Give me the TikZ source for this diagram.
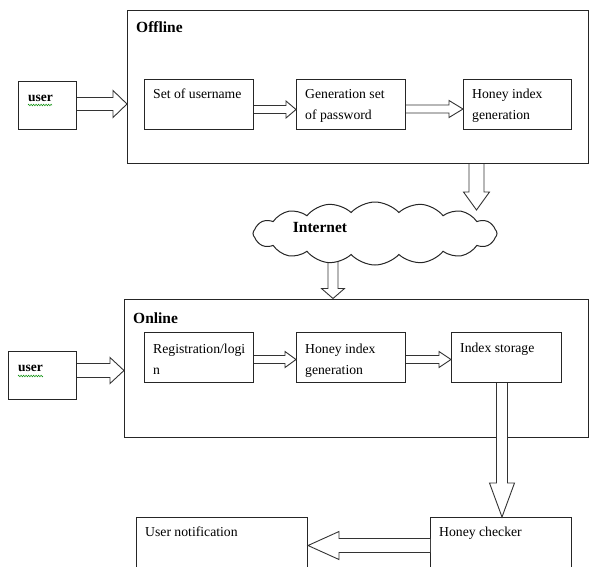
\documentclass[tikz,border=0pt]{standalone}
\usepackage{fontspec}
\setmainfont{Liberation Serif}
\usetikzlibrary{calc,shapes.symbols,decorations.pathmorphing}

% hollow block arrow: start, tip, shaft half width, head half width, head length
\newcommand{\hollowarrow}[5]{%
  \coordinate (ha-s) at #1;
  \coordinate (ha-t) at #2;
  \coordinate (ha-b) at ($(ha-t)!#5!(ha-s)$);
  \filldraw[arrowbody] ($(ha-s)!#3!90:(ha-t)$) -- ($(ha-b)!#3!-90:(ha-s)$)
    -- ($(ha-b)!#4!-90:(ha-s)$) -- (ha-t) -- ($(ha-b)!#4!90:(ha-s)$)
    -- ($(ha-b)!#3!90:(ha-s)$) -- ($(ha-s)!#3!-90:(ha-t)$);
}

\begin{document}
\begin{tikzpicture}[x=1pt,y=-1pt,
    box/.style={draw=black!85, line width=1pt, fill=white, anchor=north west, inner sep=0pt},
    stage/.style={box, line width=1.2pt},
    tag/.style={anchor=north west, inner sep=0pt, align=left, xshift=9pt, yshift=-10.5pt,
      font=\fontsize{13.7}{21}\selectfont},
    head/.style={anchor=north west, inner sep=0pt, xshift=9pt, yshift=-12pt,
      font=\fontsize{15.5}{18}\selectfont\bfseries},
    arrowbody/.style={draw=black!80, fill=white, line width=0.9pt, line join=miter},
    squiggle/.style={draw=green!55!black, line width=0.5pt,
      decorate, decoration={zigzag, amplitude=0.8pt, segment length=2.5pt}}]

    \useasboundingbox (0,0) rectangle (589,566);
    \clip (0,0) rectangle (589,566);

    % Offline stage
    \node[stage, minimum width=460.5pt, minimum height=153.5pt,
      label={[head]north west:Offline}] (offline) at (127,9.5) {};
    \node[box, minimum width=58pt, minimum height=48pt,
      label={[tag, font=\fontsize{13.5}{16}\selectfont\bfseries, xshift=1pt, yshift=-3.5pt]north west:user}] (user1) at (18,81) {};
    \node[box, minimum width=109pt, minimum height=50pt,
      label={[tag, yshift=0.5pt]north west:Set of username}] (setu) at (144,79) {};
    \node[box, minimum width=109pt, minimum height=50pt,
      label={[tag, yshift=0.5pt]north west:Generation set\\of password}] (genp) at (296,79) {};
    \node[box, minimum width=108pt, minimum height=50pt,
      label={[tag, yshift=0.5pt]north west:Honey index\\generation}] (hig1) at (463,79) {};

    % spell check mark under user
    \draw[squiggle] ($(user1.north west)+(10,24)$) -- ++(24,0);

    % Internet cloud, the arrow into the online stage sits behind it
    \coordinate (drop2) at (333,258);
    \node[stage, minimum width=463.5pt, minimum height=138.5pt,
      label={[head, yshift=-2pt]north west:Online}] (online) at (124,298.5) {};
    \hollowarrow{(drop2)}{(drop2 |- online.north)}{5pt}{11.5pt}{10pt}
    \node[cloud, cloud puffs=16, cloud puff arc=95, aspect=3.9, draw=black!85,
      line width=1pt, fill=white, minimum width=244pt, minimum height=63pt, inner sep=0pt,
      label={[font=\fontsize{15.5}{18}\selectfont\bfseries, xshift=-55pt, yshift=6.5pt]center:Internet}]
      (net) at (375,233.5) {};

    % Online stage
    \node[box, minimum width=68pt, minimum height=48pt,
      label={[tag, font=\fontsize{13.5}{16}\selectfont\bfseries, xshift=1pt, yshift=-3.5pt]north west:user}] (user2) at (8,351) {};
    \node[box, minimum width=109pt, minimum height=50pt,
      label={[tag, yshift=-1pt]north west:Registration/logi\\n}] (reg) at (144,332) {};
    \node[box, minimum width=109pt, minimum height=50pt,
      label={[tag, yshift=-1pt]north west:Honey index\\generation}] (hig2) at (296,332) {};
    \node[box, minimum width=110pt, minimum height=50pt,
      label={[tag]north west:Index storage}] (idx) at (451,332) {};
    \draw[squiggle] ($(user2.north west)+(10,25)$) -- ++(25,0);

    % Checking stage
    \node[box, minimum width=171pt, minimum height=58pt,
      label={[tag, yshift=1pt]north west:User notification}] (unotif) at (136,517) {};
    \node[box, minimum width=141pt, minimum height=58pt,
      label={[tag, yshift=1pt]north west:Honey checker}] (hcheck) at (430,517) {};

    % Block arrows
    \coordinate (u1) at ([yshift=1.5pt]user1.east);
    \hollowarrow{(u1)}{(u1 -| offline.west)}{6.5pt}{13.5pt}{14pt}
    \coordinate (a1) at ([yshift=-5pt]setu.east);
    \hollowarrow{(a1)}{(a1 -| genp.west)}{4pt}{8.5pt}{10pt}
    \coordinate (a2) at ([yshift=-4.5pt]genp.east);
    \hollowarrow{(a2)}{(a2 -| hig1.west)}{4pt}{8.5pt}{14pt}

    \coordinate (drop1) at (476.5,210);
    \hollowarrow{(drop1 |- offline.south)}{(drop1)}{7.5pt}{13pt}{18pt}

    \coordinate (u2) at ([yshift=5pt]user2.east);
    \hollowarrow{(u2)}{(u2 -| online.west)}{7pt}{13pt}{14pt}
    \coordinate (a3) at ([yshift=-2pt]reg.east);
    \hollowarrow{(a3)}{(a3 -| hig2.west)}{4pt}{8pt}{11pt}
    \coordinate (a4) at ([yshift=-2pt]hig2.east);
    \hollowarrow{(a4)}{(a4 -| idx.west)}{4pt}{8pt}{12pt}

    \coordinate (a5) at ([xshift=-4.5pt]idx.south);
    \hollowarrow{(a5)}{(a5 |- hcheck.north)}{5.5pt}{12.5pt}{34pt}
    \coordinate (a6) at ([yshift=1pt]hcheck.west);
    \hollowarrow{(a6)}{(a6 -| unotif.east)}{7pt}{14pt}{31pt}

\end{tikzpicture}
\end{document}
